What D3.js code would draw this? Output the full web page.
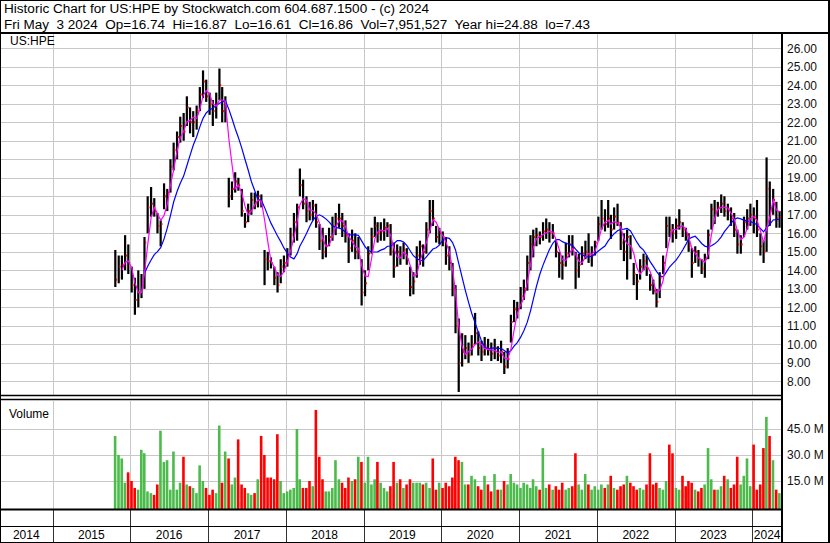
<!DOCTYPE html>
<html><head><meta charset="utf-8">
<script src="https://cdn.jsdelivr.net/npm/d3@7"></script>
<style>body{margin:0;background:#fff;} svg{display:block;font-family:Arial,"Liberation Sans",sans-serif;}</style>
</head><body><svg id="c" width="830" height="543"></svg>
<script>
// ---- data (semi-monthly periods: 1st and 16th of each month) ----
const firstPeriod = "2015-10-16";
const lastPeriod = "2024-05-01";
const highs = [15.1,14.8,14.8,15.9,15.4,
14.2,13.6,14.0,13.8,15.8,18.0,18.5,17.9,17.1,16.7,18.7,18.4,20.0,20.9,21.5,22.3,22.5,23.4,22.8,22.6,22.9,23.9,24.8,24.3,
23.6,23.2,23.6,24.9,23.9,23.4,19.0,18.8,19.3,19.0,18.4,17.1,17.6,18.2,18.2,18.3,18.1,15.1,15.0,14.7,14.2,13.9,14.6,14.8,
15.2,16.3,17.1,17.6,19.5,18.9,18.0,17.7,17.8,17.6,16.5,16.3,15.9,16.3,16.9,17.1,17.6,17.1,16.7,16.0,16.2,16.0,15.8,14.6,
14.0,15.3,16.3,16.9,16.6,16.6,16.8,16.6,16.5,15.5,15.4,15.3,15.5,15.2,14.2,13.9,15.3,15.6,15.4,16.6,17.8,17.8,16.4,16.3,
16.1,15.8,15.3,14.4,13.2,11.4,10.6,10.5,10.1,10.5,11.7,10.7,10.2,10.4,10.3,10.1,10.3,9.9,10.2,9.6,9.8,11.6,12.4,12.3,
13.1,13.5,14.8,15.9,16.2,16.3,16.1,16.6,16.8,16.6,16.5,15.6,15.0,14.8,15.5,15.9,15.9,15.0,14.9,15.3,15.6,16.0,15.3,15.6,
16.9,17.8,17.3,17.8,17.0,17.4,17.6,16.6,16.0,16.2,15.9,14.4,13.8,14.6,14.9,14.8,13.8,13.5,13.0,13.9,14.8,16.9,16.9,16.5,
16.8,17.3,16.6,16.3,16.0,15.2,15.3,15.1,14.6,14.9,16.2,17.6,17.8,17.7,18.1,18.0,17.6,17.4,17.1,16.2,15.9,16.9,17.3,17.6,
17.4,17.8,16.0,15.6,20.1,18.8,18.4,17.7,17.2];
const lows = [13.1,13.3,13.5,14.0,13.8,
12.8,11.6,12.0,12.5,13.0,16.0,16.9,16.9,16.0,15.3,17.3,17.2,18.2,19.4,20.0,20.9,21.0,21.8,21.4,21.2,21.6,22.6,23.3,23.1,
22.4,21.8,22.2,23.2,22.0,22.0,17.4,17.8,18.2,18.3,16.9,16.3,16.6,17.0,17.3,17.4,17.4,13.2,14.0,14.1,13.2,12.8,13.3,13.9,
14.2,14.8,15.5,15.6,18.0,17.3,16.6,16.7,16.7,16.3,15.1,14.6,14.7,15.3,15.6,15.9,16.3,15.8,15.5,14.4,15.0,14.6,14.6,12.1,
12.6,14.0,14.9,15.8,15.5,15.6,15.6,15.8,14.8,13.6,14.2,14.3,14.6,14.3,12.6,12.7,13.6,14.3,14.2,14.9,16.0,16.4,15.5,15.4,
15.3,14.3,14.0,12.6,10.6,7.43,8.8,9.2,9.0,9.4,10.0,9.4,9.1,9.4,9.4,9.1,9.2,9.1,9.0,8.4,8.7,10.1,11.2,11.4,
11.9,12.4,12.9,14.0,14.7,15.3,15.4,15.6,15.7,15.5,15.7,14.7,13.6,13.5,14.2,14.7,14.8,13.0,13.6,14.3,14.6,14.4,14.2,14.8,
15.6,16.2,16.1,16.3,15.7,16.2,16.4,15.1,14.5,13.5,14.6,13.2,12.4,13.5,14.0,13.7,12.9,12.7,12.0,12.5,13.8,15.2,15.8,15.5,
15.7,16.2,15.8,15.6,15.0,13.6,14.4,14.2,13.8,13.6,14.6,16.2,16.5,16.9,17.1,16.9,16.7,16.4,15.8,14.9,14.9,15.8,16.2,16.4,
16.0,15.8,14.8,14.4,15.0,16.4,17.0,16.3,16.3];
const closes = [13.5,14.2,14.3,14.8,14.4,
13.2,12.4,12.8,13.2,15.5,17.4,17.6,17.2,16.4,16.5,18.0,18.2,19.6,20.5,21.2,21.8,21.5,22.8,22.0,22.0,22.6,23.5,24.2,23.4,
23.0,22.6,23.0,24.0,22.6,22.8,18.0,18.4,18.8,18.6,17.2,16.6,17.2,17.8,17.6,18.0,17.6,14.6,14.5,14.4,13.6,13.2,14.2,14.4,
14.8,15.9,16.6,17.4,18.6,17.6,17.2,17.0,17.5,16.6,15.6,15.0,15.3,15.8,16.4,16.8,16.8,16.4,15.9,15.2,15.6,15.0,15.0,12.8,
13.3,14.9,15.8,16.4,16.0,16.1,16.3,16.4,15.0,14.2,15.0,14.8,15.1,14.6,13.1,13.4,14.8,15.3,15.0,16.2,17.2,16.8,15.8,16.0,
15.8,14.8,14.4,13.0,11.0,9.0,9.6,9.8,9.4,10.0,10.6,9.8,9.6,9.9,9.7,9.5,9.8,9.4,9.6,8.8,9.2,11.2,11.9,11.9,
12.6,13.0,14.4,15.4,15.8,15.9,15.8,16.1,16.2,16.0,16.0,15.0,14.4,14.3,14.9,15.4,15.2,14.0,14.3,14.9,15.0,14.8,14.8,15.5,
16.5,16.8,16.5,16.8,16.2,16.9,16.6,15.5,15.0,15.8,15.2,13.8,13.4,14.2,14.5,14.1,13.2,12.9,12.3,13.6,14.4,16.4,16.2,16.0,
16.4,16.6,16.2,15.9,15.3,14.4,15.0,14.6,14.1,14.6,15.9,17.3,17.2,17.4,17.6,17.2,17.3,16.8,16.2,15.4,15.4,16.6,16.8,17.0,
16.9,16.2,15.3,15.0,18.4,17.2,17.8,16.8,16.86];
const volumes = [41,30,28,14,20,
15,11,10,33,31,9,8,7,13,44,26,27,10,32,10,14,29,13,12,11,8,24,15,11,
7,10,8,47,14,32,28,13,17,39,13,11,8,7,8,16,41,30,17,17,16,42,15,8,
9,10,11,45,16,11,11,15,12,56,29,16,9,9,11,27,16,14,11,17,15,16,29,26,
14,29,13,16,26,14,11,9,12,26,14,16,11,13,16,14,14,14,13,14,11,28,10,14,
11,14,12,17,29,27,26,13,13,18,16,12,10,18,13,9,19,10,10,15,13,19,14,13,
11,14,13,11,16,12,10,34,11,13,10,12,10,14,10,11,12,31,13,10,19,13,10,12,
10,13,11,13,18,11,10,12,13,18,14,12,10,11,10,13,31,13,14,11,10,15,36,31,
11,10,18,12,15,14,10,9,11,13,34,16,10,10,12,18,16,11,13,29,13,18,28,12,
36,10,13,34,52,41,27,10,8];
const priceTicks = [8,9,10,11,12,13,14,15,16,17,18,19,20,21,22,23,24,25,26];
const volumeTicks = [15,30,45];
const yearLabels = [2014,2015,2016,2017,2018,2019,2020,2021,2022,2023,2024];
const titleLine = "Historic Chart for US:HPE by Stockwatch.com 604.687.1500 - (c) 2024";
const infoLine = "Fri May  3 2024  Op=16.74  Hi=16.87  Lo=16.61  Cl=16.86  Vol=7,951,527  Year hi=24.88  lo=7.43";

// periods
const parse = d3.timeParse("%Y-%m-%d");
const periods = [];
{
  let d = parse(firstPeriod); const end = parse(lastPeriod);
  while (d <= end) { periods.push(d); d = d.getDate() === 1 ? new Date(d.getFullYear(), d.getMonth(), 16) : new Date(d.getFullYear(), d.getMonth()+1, 1); }
}
const data = periods.map((d,i)=>({date:d, h:highs[i], l:lows[i], c:closes[i], v:volumes[i], prev: i>0?closes[i-1]:closes[i]}));
function sma(n){ return data.map((d,i)=> i<n-1 ? null : d3.mean(closes.slice(i-n+1,i+1))); }
const ma1 = sma(3), ma2 = sma(10);

const svg = d3.select("#c");
const plotR = 782;
const x = d3.scaleTime().domain([new Date(2015,0,1), new Date(2024,0,1)]).range([52.5, 752.3]);
const y = d3.scaleLinear().domain([8,26]).range([381.4,48.2]);
const yv = d3.scaleLinear().domain([0,45]).range([507,429]);

svg.append("rect").attr("width",830).attr("height",543).attr("fill","#fff");
const defs = svg.append("defs");
defs.append("clipPath").attr("id","cp").append("rect").attr("x",0).attr("y",34).attr("width",plotR).attr("height",361);
defs.append("clipPath").attr("id","cv").append("rect").attr("x",0).attr("y",401).attr("width",plotR).attr("height",108);

const grid = "#c8c8c8";
const yearBounds = d3.range(2015,2025).map(yr=>new Date(yr,0,1));
// price grid
const gp = svg.append("g").attr("clip-path","url(#cp)");
gp.selectAll(".hg").data(priceTicks).join("line").attr("x1",0).attr("x2",plotR).attr("y1",d=>Math.round(y(d))+0.5).attr("y2",d=>Math.round(y(d))+0.5).attr("stroke",grid);
gp.selectAll(".vg").data(yearBounds).join("line").attr("x1",d=>Math.round(x(d))+0.5).attr("x2",d=>Math.round(x(d))+0.5).attr("y1",34).attr("y2",395).attr("stroke",grid);
// volume grid
const gv = svg.append("g").attr("clip-path","url(#cv)");
gv.selectAll(".hg").data(volumeTicks).join("line").attr("x1",0).attr("x2",plotR).attr("y1",d=>Math.round(yv(d))+0.5).attr("y2",d=>Math.round(yv(d))+0.5).attr("stroke",grid);
gv.selectAll(".vg").data(yearBounds).join("line").attr("x1",d=>Math.round(x(d))+0.5).attr("x2",d=>Math.round(x(d))+0.5).attr("y1",400).attr("y2",509).attr("stroke",grid);

// price bars
gp.selectAll(".bar").data(data).join("rect")
  .attr("x",d=>x(d.date)+0.4).attr("width",2.2)
  .attr("y",d=>y(d.h)).attr("height",d=>Math.max(1,y(d.l)-y(d.h))).attr("fill","#000");
gp.selectAll(".cl").data(data).join("rect")
  .attr("x",d=>x(d.date)+2).attr("width",1.3)
  .attr("y",d=>y(d.c)-1).attr("height",2).attr("fill","#ff0000");
// moving averages
const line = d3.line().defined(d=>d.m!=null).x(d=>x(d.date)+1.5).y(d=>y(d.m));
gp.append("path").datum(data.map((d,i)=>({date:d.date,m:ma2[i]}))).attr("d",line).attr("fill","none").attr("stroke","#0000ff").attr("stroke-width",1.2);
gp.append("path").datum(data.map((d,i)=>({date:d.date,m:ma1[i]}))).attr("d",line).attr("fill","none").attr("stroke","#ff00ff").attr("stroke-width",1.2);

// volume bars
gv.selectAll(".vb").data(data).join("rect")
  .attr("x",d=>x(d.date)).attr("width",2.6)
  .attr("y",d=>yv(d.v)).attr("height",d=>509-yv(d.v))
  .attr("fill",d=>d.c>=d.prev?"#4cbb4c":"#ff0000");

// labels
svg.append("text").attr("x",10).attr("y",45).attr("font-size",12).text("US:HPE");
svg.append("text").attr("x",9).attr("y",418).attr("font-size",12).text("Volume");
svg.selectAll(".pl").data(priceTicks).join("text").attr("x",787).attr("y",d=>y(d)+4.3).attr("font-size",12).attr("fill","#111").text(d=>d3.format(".2f")(d));
svg.selectAll(".vl").data(volumeTicks).join("text").attr("x",787).attr("y",d=>yv(d)+4.3).attr("font-size",12).attr("fill","#111").text(d=>d3.format(".1f")(d)+" M");

// header
svg.append("text").attr("x",4).attr("y",12.5).attr("font-size",12.5).attr("textLength",425).attr("lengthAdjust","spacingAndGlyphs").text(titleLine);
svg.append("text").attr("x",4).attr("y",28.5).attr("font-size",12.5).attr("textLength",586).attr("lengthAdjust","spacingAndGlyphs").style("white-space","pre").text(infoLine);

// year axis rows
const bounds = [0, ...yearBounds.map(d=>x(d)), plotR];
svg.selectAll(".ys").data(yearBounds).join("line").attr("x1",d=>Math.round(x(d))+0.5).attr("x2",d=>Math.round(x(d))+0.5).attr("y1",510).attr("y2",542).attr("stroke","#333");
svg.selectAll(".yl").data(yearLabels).join("text").attr("x",(d,i)=>(bounds[i]+bounds[i+1])/2).attr("y",539).attr("text-anchor","middle").attr("font-size",12).text(d=>d);

// frame lines
const L = (x1,y1,x2,y2,w)=>svg.append("line").attr("x1",x1).attr("y1",y1).attr("x2",x2).attr("y2",y2).attr("stroke","#000").attr("stroke-width",w);
L(0,0.5,830,0.5,1);
L(0.5,0,0.5,543,1);
L(829,0,829,543,2);
L(0,542.5,830,542.5,1);
L(0,33,830,33,2);
L(plotR,33,plotR,543,2);
L(0,395.5,plotR,395.5,1.5);
L(0,399.5,plotR,399.5,1.5);
L(0,509.5,plotR,509.5,2);
L(0,526.5,plotR,526.5,1.2);
</script></body></html>
